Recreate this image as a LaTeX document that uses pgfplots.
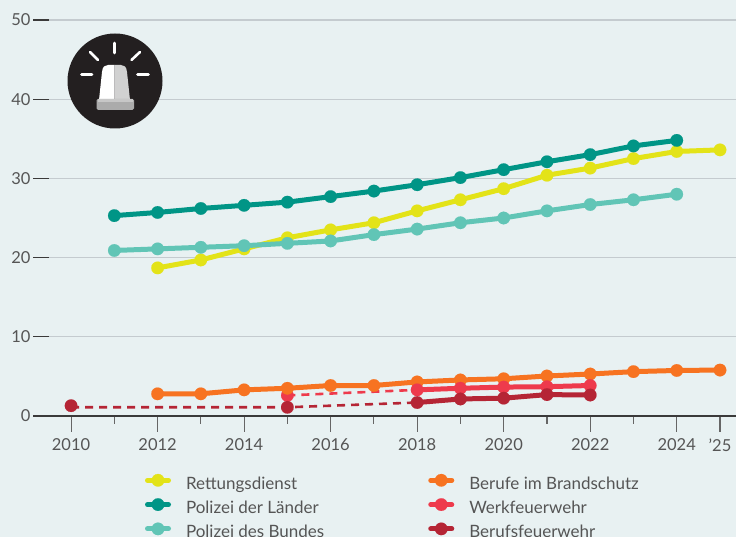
\documentclass[border=0pt]{standalone}
\usepackage{fontspec}
\setmainfont{Lato}
\usepackage{pgfplots}
\pgfplotsset{compat=1.18}
\definecolor{bgc}{HTML}{E8F1F2}
\definecolor{gridc}{HTML}{C4CBCF}
\definecolor{txtc}{HTML}{555555}
\definecolor{axc}{HTML}{3A3A3A}
\definecolor{yel}{HTML}{E3E318}
\definecolor{lae}{HTML}{009586}
\definecolor{bun}{HTML}{61C5B6}
\definecolor{bra}{HTML}{F77321}
\definecolor{wer}{HTML}{EE3A4C}
\definecolor{ber}{HTML}{B52535}
\definecolor{icn}{HTML}{231F20}
\pgfplotsset{
  ser/.style={color=#1, line width=5pt, mark=*, mark size=6.3pt, mark options={solid, fill=#1, draw=#1, line width=0.1pt}},
  dsh/.style={color=#1, line width=2.6pt, dash pattern=on 8pt off 6pt, forget plot},
  pts/.style={color=#1, only marks, mark=*, mark size=6.3pt, mark options={fill=#1, draw=#1, line width=0.1pt}, forget plot},
  /pgfplots/legend image code/.code={
    \draw[mark repeat=2,mark phase=2,#1,line width=5pt,line cap=round] plot coordinates {(2.5pt,4pt) (13pt,4pt) (23.5pt,4pt)};
  }
}
\begin{document}
\begin{tikzpicture}[x=1pt,y=1pt]
\path[use as bounding box] (0,0) rectangle (736,537);
\fill[bgc] (0,0) rectangle (736,537);
\begin{axis}[
  at={(49pt,121pt)}, anchor=south west,
  scale only axis, width=687pt, height=396pt,
  xmin=2009.49, xmax=2025.37, ymin=0, ymax=50,
  clip=false,
  axis line style={draw=none},
  axis x line=bottom, axis y line=left,
  x axis line style={draw=axc, line width=1.2pt, -},
  y axis line style={draw=none},
  xtick={2010,2012,2014,2016,2018,2020,2022,2024,2025},
  xticklabels={2010,2012,2014,2016,2018,2020,2022,2024,{'25}},
  minor xtick={2011,2013,2015,2017,2019,2021,2023},
  ytick={0,10,20,30,40,50},
  ymajorgrids, grid style={draw=gridc, line width=1.2pt},
  tick align=outside,
  major tick length=16pt, minor tick length=8pt,
  x tick style={draw=black!60, line width=1.1pt},
  y tick style={draw=axc, line width=1.1pt},
  every minor tick/.append style={draw=black!65, line width=1.1pt},
  xtick pos=bottom, ytick pos=left,
  tick label style={font=\fontsize{16.5}{18}\selectfont, text=txtc},
  /pgf/number format/assume math mode=true,
  /pgf/number format/1000 sep={},
  yticklabel style={xshift=1pt},
  xticklabel style={yshift=-3pt},
  legend columns=3, transpose legend,
  legend cell align=left,
  legend style={at={(96pt,-58pt)}, anchor=north west, draw=none, fill=none,
    font=\fontsize{17}{18}\selectfont, text=txtc, inner sep=0pt, outer sep=0pt,
    nodes={inner ysep=0pt, inner xsep=0pt, text height=11pt, text depth=1pt},
    row sep=8pt,
    /tikz/every even column/.append style={column sep=104pt},
    /tikz/every odd column/.append style={column sep=15pt},
  },
]
\addplot[pts=wer] coordinates {(2015,2.6)};
\addplot[dsh=wer] coordinates {(2015,2.6)(2018,3.3)};
\addplot[dsh=ber] coordinates {(2010,1.1)(2015,1.1)(2018,1.7)};
\addplot[pts=ber] coordinates {(2010,1.3)(2015,1.1)};
\addplot[ser=yel] coordinates {(2012,18.7)(2013,19.7)(2014,21.1)(2015,22.5)(2016,23.5)(2017,24.4)(2018,25.9)(2019,27.3)(2020,28.7)(2021,30.4)(2022,31.3)(2023,32.5)(2024,33.4)(2025,33.6)};
\addlegendentry{Rettungsdienst}
\addplot[ser=lae] coordinates {(2011,25.3)(2012,25.7)(2013,26.2)(2014,26.6)(2015,27.0)(2016,27.7)(2017,28.4)(2018,29.2)(2019,30.1)(2020,31.1)(2021,32.1)(2022,33.0)(2023,34.1)(2024,34.8)};
\addlegendentry{Polizei der Länder}
\addplot[ser=bun] coordinates {(2011,20.9)(2012,21.1)(2013,21.3)(2014,21.5)(2015,21.8)(2016,22.1)(2017,22.9)(2018,23.6)(2019,24.4)(2020,25.0)(2021,25.9)(2022,26.7)(2023,27.3)(2024,28.0)};
\addlegendentry{Polizei des Bundes}
\addplot[ser=bra] coordinates {(2012,2.8)(2013,2.8)(2014,3.3)(2015,3.5)(2016,3.85)(2017,3.85)(2018,4.3)(2019,4.55)(2020,4.7)(2021,5.05)(2022,5.3)(2023,5.6)(2024,5.75)(2025,5.8)};
\addlegendentry{Berufe im Brandschutz}
\addplot[ser=wer] coordinates {(2018,3.3)(2019,3.5)(2020,3.65)(2021,3.7)(2022,3.85)};
\addlegendentry{Werkfeuerwehr}
\addplot[ser=ber] coordinates {(2018,1.7)(2019,2.15)(2020,2.25)(2021,2.7)(2022,2.65)};
\addlegendentry{Berufsfeuerwehr}
\end{axis}
% icon (pixel coordinates, y flipped about 537)
\begin{scope}[shift={(0,537)},yscale=-1]
\fill[icn] (115,81) circle (47.5);
\draw[white,line width=2.6pt,line cap=round] (114.5,43)--(114.5,53) (90,52)--(98,60) (140,52)--(131.5,60) (81.5,74.5)--(92,74.5) (137.5,74.5)--(148.5,74.5);
\fill[white] (99,100) -- (102,72) .. controls (102.5,66.5) and (105,65) .. (108,65) -- (114.5,65) -- (114.5,100) -- cycle;
\fill[black!18] (114.5,65) -- (121,65) .. controls (124,65) and (126.5,66.5) .. (127,72) -- (130,100) -- (114.5,100) -- cycle;
\fill[black!33,rounded corners=1.5pt] (96.5,99) rectangle (134,110);
\fill[black!22] (97.5,99) rectangle (133,102.5);
\end{scope}
\end{tikzpicture}
\end{document}
